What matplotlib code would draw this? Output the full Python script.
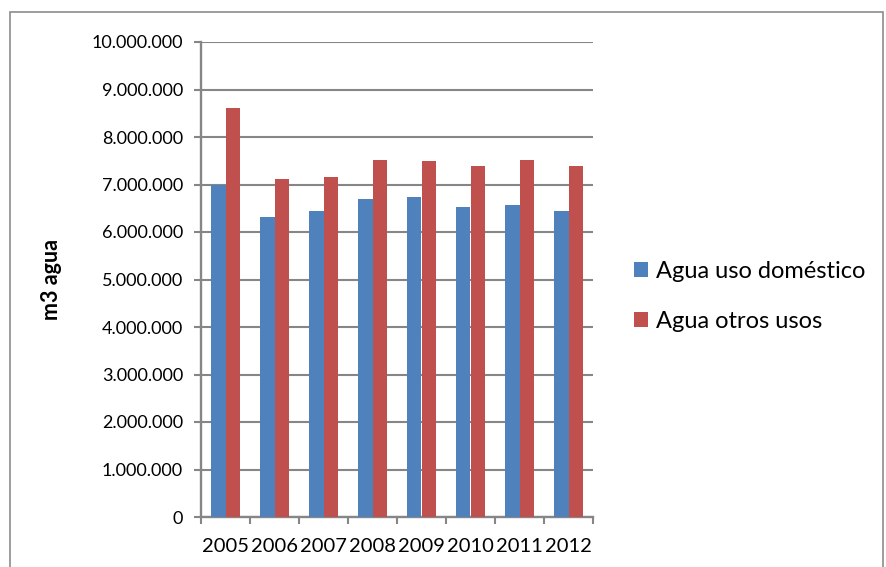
import matplotlib.pyplot as plt
import numpy as np
from matplotlib.patches import Rectangle

years = ["2005", "2006", "2007", "2008", "2009", "2010", "2011", "2012"]
domestico = [7000000, 6310000, 6450000, 6700000, 6740000, 6530000, 6570000, 6450000]
otros = [8620000, 7110000, 7150000, 7520000, 7490000, 7400000, 7520000, 7400000]
yticks = [0, 1000000, 2000000, 3000000, 4000000, 5000000, 6000000, 7000000, 8000000, 9000000, 10000000]

plt.rcParams['font.family'] = ['Lato', 'DejaVu Sans']

fig = plt.figure(figsize=(8.86, 5.67), dpi=100)
ax = fig.add_axes([201/886, 50/567, 392/886, 475/567])

# chart border
fig.patches.append(Rectangle((10/886, -0.1), 873/886, (567-12)/567 + 0.1,
                             transform=fig.transFigure, fill=False,
                             edgecolor='#8c8c8c', linewidth=1.2))

x = np.arange(len(years))
w = 0.286
ax.bar(x - w/2, domestico, w, color='#4F81BD', label='Agua uso doméstico', zorder=3)
ax.bar(x + w/2, otros, w, color='#C0504D', label='Agua otros usos', zorder=3)

ax.set_xlim(-0.5, len(years) - 0.5)
ax.set_ylim(0, 10000000)
ax.set_yticks(yticks)
ax.set_yticklabels([f"{v:,}".replace(",", ".") for v in yticks], fontsize=13)
ax.yaxis.grid(True, color='#868686', linewidth=1.5, zorder=0)

ax.set_xticks(x)
ax.set_xticklabels(years, fontsize=14.5)
ax.tick_params(axis='x', length=0, pad=15)
ax.set_xticks(np.arange(-0.5, len(years)), minor=True)
ax.tick_params(axis='x', which='minor', length=5, color='#868686', width=1.5)
ax.tick_params(axis='y', length=5, color='#868686', width=1.5, pad=8)

for s in ['top', 'right']:
    ax.spines[s].set_visible(False)
for s in ['left', 'bottom']:
    ax.spines[s].set_color('#868686')
    ax.spines[s].set_linewidth(1.7)

ax.set_ylabel('m3 agua', fontsize=15.5, fontweight='bold')
ax.yaxis.set_label_coords((62 - 201) / 392, 0.5)

fig.legend(loc='upper left', bbox_to_anchor=(613/886, 1 - 240/567), frameon=False,
           fontsize=17, handlelength=0.6, handleheight=0.6, labelspacing=1.2,
           handletextpad=0.3)

fig.savefig('out.png', dpi=100)
